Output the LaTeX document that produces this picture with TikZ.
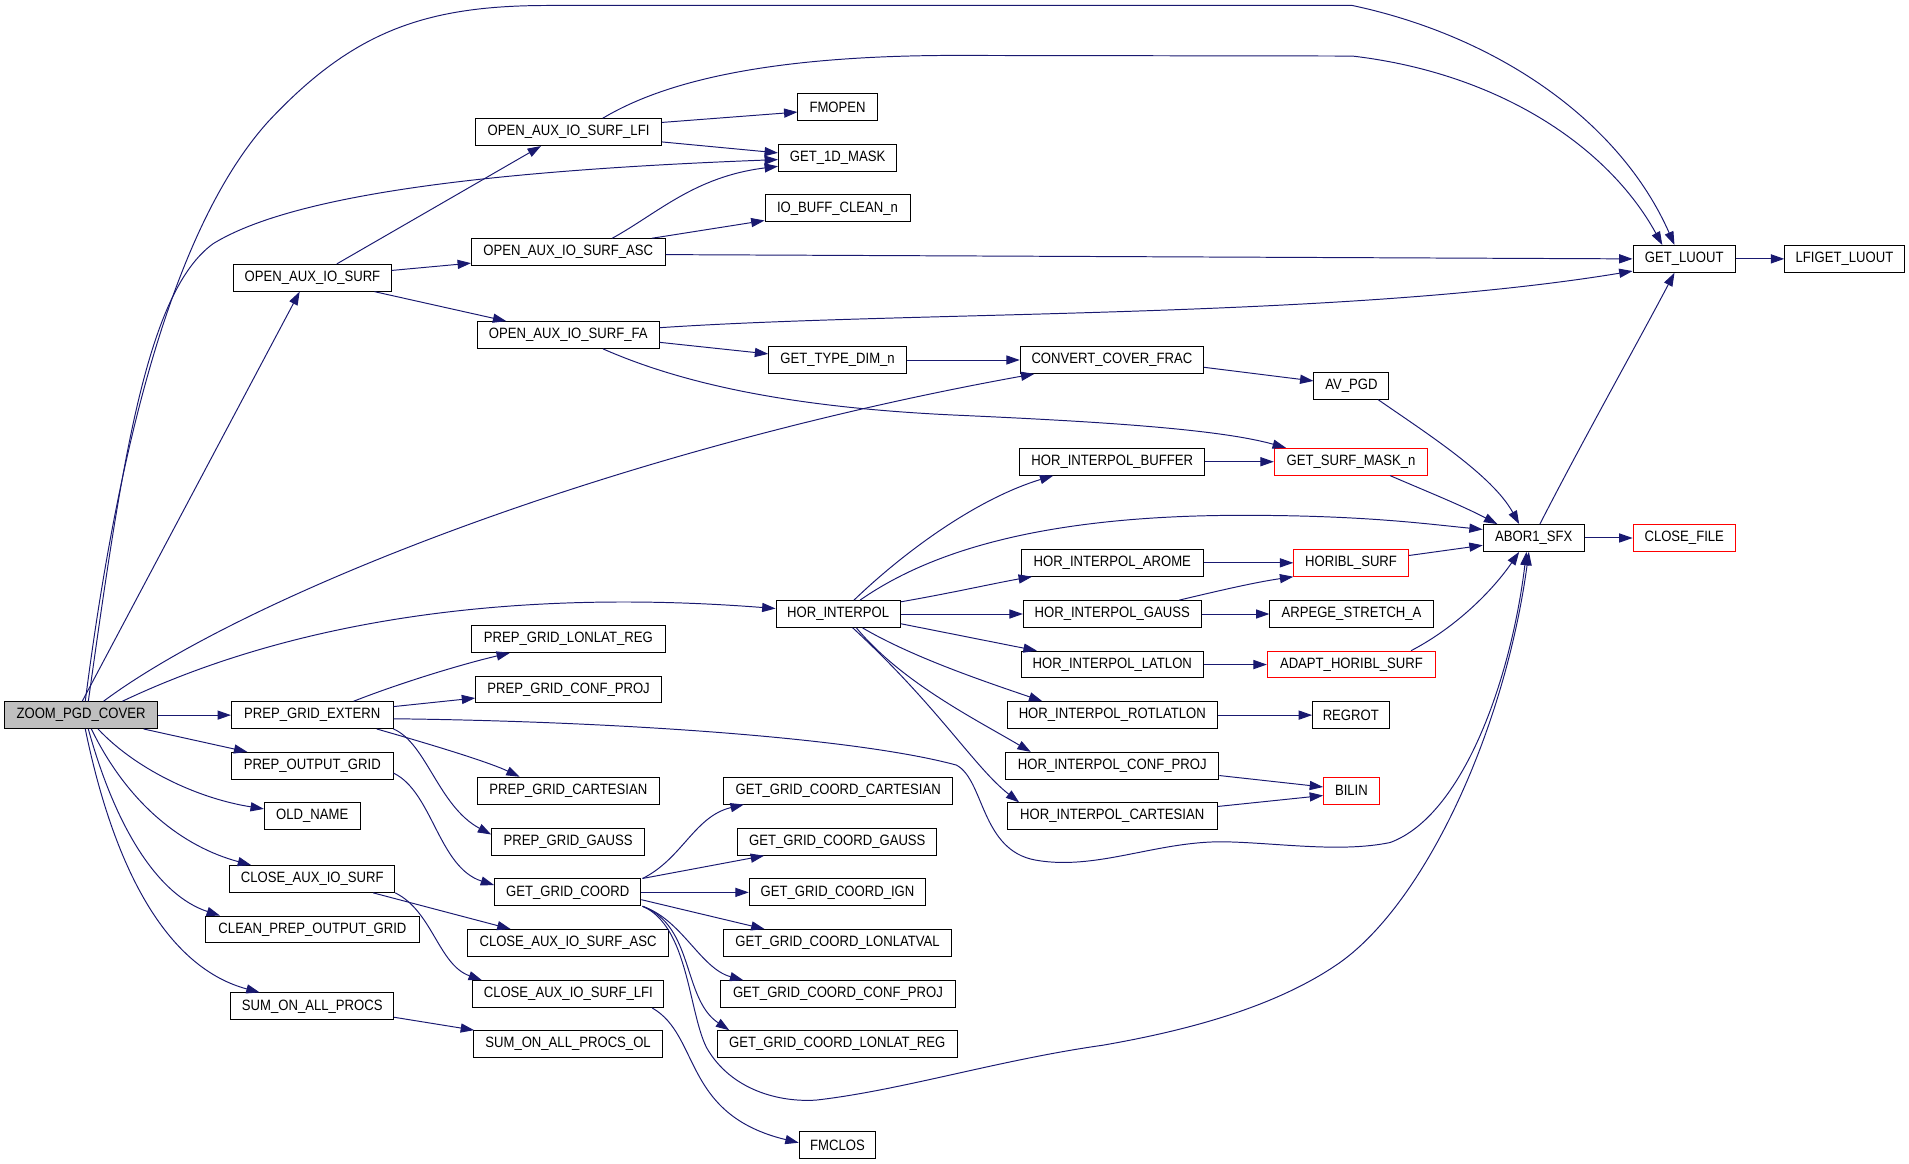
\documentclass[tikz,border=0pt]{standalone}
\usepackage{fontspec}
\setmainfont{Liberation Sans}[FakeStretch=0.875]
\usetikzlibrary{arrows.meta,calc}
\definecolor{edgec}{HTML}{191970}
\definecolor{grayfill}{HTML}{BFBFBF}
\definecolor{redc}{HTML}{FF0000}
\begin{document}
\begin{tikzpicture}[x=1pt,y=-1pt,
 fn/.style={draw=black, line width=0.8pt, rectangle, minimum height=22pt, inner sep=0pt, font=\fontsize{12.3}{13}\selectfont, text=black},
 redfn/.style={fn, draw=redc},
 rootfn/.style={fn, fill=grayfill},
 conn/.style={draw=edgec, line width=0.8pt, -{Triangle[length=11pt,width=7.5pt]}}]
\useasboundingbox (0,0) rectangle (1567,955.4);

\node[rootfn, minimum width=125pt] (zoom) at (66.5,587) {ZOOM\_PGD\_COVER};
\node[fn, minimum width=129pt] (oaios) at (256.5,228) {OPEN\_AUX\_IO\_SURF};
\node[fn, minimum width=152.5pt] (lfi) at (466.7,108.5) {OPEN\_AUX\_IO\_SURF\_LFI};
\node[fn, minimum width=65pt] (fmopen) at (687.5,88) {FMOPEN};
\node[fn, minimum width=97pt] (mask1d) at (687.5,129.5) {GET\_1D\_MASK};
\node[fn, minimum width=119pt] (iobuff) at (687.5,171) {IO\_BUFF\_CLEAN\_n};
\node[fn, minimum width=159pt] (asc) at (466.5,207) {OPEN\_AUX\_IO\_SURF\_ASC};
\node[fn, minimum width=149pt] (fa) at (466.5,275) {OPEN\_AUX\_IO\_SURF\_FA};
\node[fn, minimum width=113pt] (typedim) at (687.5,295.5) {GET\_TYPE\_DIM\_n};
\node[fn, minimum width=84pt] (luout) at (1382.5,212.5) {GET\_LUOUT};
\node[fn, minimum width=98pt] (lfiget) at (1514,212.5) {LFIGET\_LUOUT};
\node[fn, minimum width=150.5pt] (convert) at (912.7,295.5) {CONVERT\_COVER\_FRAC};
\node[fn, minimum width=61.5pt] (avpgd) at (1109.3,316.7) {AV\_PGD};
\node[fn, minimum width=152pt] (hibuf) at (913,379) {HOR\_INTERPOL\_BUFFER};
\node[redfn, minimum width=126pt] (surfmask) at (1109,379) {GET\_SURF\_MASK\_n};
\node[fn, minimum width=83pt] (abor) at (1259,441.6) {ABOR1\_SFX};
\node[redfn, minimum width=84pt] (closefile) at (1382.5,441.6) {CLOSE\_FILE};
\node[fn, minimum width=149pt] (arome) at (913,462) {HOR\_INTERPOL\_AROME};
\node[redfn, minimum width=94pt] (horibl) at (1109,462) {HORIBL\_SURF};
\node[fn, minimum width=102pt] (hi) at (688,504) {HOR\_INTERPOL};
\node[fn, minimum width=146pt] (gauss) at (913,504) {HOR\_INTERPOL\_GAUSS};
\node[fn, minimum width=134pt] (arpege) at (1109.4,504) {ARPEGE\_STRETCH\_A};
\node[fn, minimum width=159pt] (lonlatreg) at (466.5,524.5) {PREP\_GRID\_LONLAT\_REG};
\node[fn, minimum width=149pt] (latlon) at (913,545.5) {HOR\_INTERPOL\_LATLON};
\node[redfn, minimum width=138pt] (adapt) at (1109.3,545.5) {ADAPT\_HORIBL\_SURF};
\node[fn, minimum width=152.5pt] (pconf) at (466.7,566) {PREP\_GRID\_CONF\_PROJ};
\node[fn, minimum width=132.7pt] (extern) at (256.3,587) {PREP\_GRID\_EXTERN};
\node[fn, minimum width=172pt] (rotlatlon) at (913,587) {HOR\_INTERPOL\_ROTLATLON};
\node[fn, minimum width=62.7pt] (regrot) at (1108.8,587) {REGROT};
\node[fn, minimum width=132.7pt] (output) at (256.3,628.6) {PREP\_OUTPUT\_GRID};
\node[fn, minimum width=175pt] (hiconf) at (913,628.6) {HOR\_INTERPOL\_CONF\_PROJ};
\node[fn, minimum width=149pt] (pcart) at (466.5,649) {PREP\_GRID\_CARTESIAN};
\node[fn, minimum width=188pt] (gcart) at (688,649) {GET\_GRID\_COORD\_CARTESIAN};
\node[redfn, minimum width=45.7pt] (bilin) at (1109.3,649) {BILIN};
\node[fn, minimum width=78.5pt] (oldname) at (256.3,670) {OLD\_NAME};
\node[fn, minimum width=172pt] (hicart) at (913,670) {HOR\_INTERPOL\_CARTESIAN};
\node[fn, minimum width=125.4pt] (pgauss) at (466.3,691) {PREP\_GRID\_GAUSS};
\node[fn, minimum width=163.4pt] (ggauss) at (687.3,691) {GET\_GRID\_COORD\_GAUSS};
\node[fn, minimum width=135.5pt] (closeaux) at (256.3,721.5) {CLOSE\_AUX\_IO\_SURF};
\node[fn, minimum width=120pt] (ggc) at (466,732.5) {GET\_GRID\_COORD};
\node[fn, minimum width=145pt] (gign) at (687.5,732.5) {GET\_GRID\_COORD\_IGN};
\node[fn, minimum width=175pt] (clean) at (256.5,763) {CLEAN\_PREP\_OUTPUT\_GRID};
\node[fn, minimum width=165.5pt] (cascx) at (466.3,774) {CLOSE\_AUX\_IO\_SURF\_ASC};
\node[fn, minimum width=187pt] (glonlatval) at (687.5,774) {GET\_GRID\_COORD\_LONLATVAL};
\node[fn, minimum width=157pt] (clfi) at (466.5,816) {CLOSE\_AUX\_IO\_SURF\_LFI};
\node[fn, minimum width=192.5pt] (gconf) at (687.8,816) {GET\_GRID\_COORD\_CONF\_PROJ};
\node[fn, minimum width=133.5pt] (sum) at (256.3,826) {SUM\_ON\_ALL\_PROCS};
\node[fn, minimum width=155.5pt] (sumol) at (466.3,857) {SUM\_ON\_ALL\_PROCS\_OL};
\node[fn, minimum width=196.6pt] (glonlatreg) at (687.3,857) {GET\_GRID\_COORD\_LONLAT\_REG};
\node[fn, minimum width=63pt] (fmclos) at (687.5,940) {FMCLOS};

% from ZOOM_PGD_COVER
\draw[conn] ($(zoom.north)+(3.5,0)$) .. controls (90,420) and (130,200) .. (220,100) .. controls (290,25) and (350,4.5) .. (450,4.5) -- (1110,4.5) .. controls (1230,30) and (1330,100) .. ($(luout.north)+(-8,0)$);
\draw[conn] ($(zoom.north)+(6,0)$) .. controls (100,380) and (120,240) .. (175,200) .. controls (240,160) and (400,140) .. ($(mask1d.west)+(0,1.5)$);
\draw[conn] ($(zoom.north)+(1,0)$) -- ($(oaios.south)+(-10.5,0)$);
\draw[conn] ($(zoom.north)+(18.5,0)$) .. controls (200,490) and (500,370) .. ($(convert.south west)+(12,0)$);
\draw[conn] ($(zoom.north)+(34,0)$) .. controls (260,500) and (450,485) .. ($(hi.west)+(0,-4.5)$);
\draw[conn] (zoom.east) -- (extern.west);
\draw[conn] ($(zoom.south)+(51.5,0)$) -- ($(output.north west)+(13.5,0)$);
\draw[conn] ($(zoom.south)+(14,0)$) .. controls (110,630) and (160,655) .. ($(oldname.west)+(0,-6)$);
\draw[conn] ($(zoom.south)+(8.5,0)$) .. controls (105,660) and (150,695) .. ($(closeaux.north west)+(18,0)$);
\draw[conn] ($(zoom.south)+(6,0)$) .. controls (95,680) and (130,735) .. ($(clean.north west)+(12,0)$);
\draw[conn] ($(zoom.south)+(3.5,0)$) .. controls (95,720) and (140,795) .. ($(sum.north west)+(24,0)$);

% OPEN_AUX_IO_SURF
\draw[conn] ($(oaios.north)+(20,0)$) -- ($(lfi.south west)+(54,0)$);
\draw[conn] ($(oaios.east)+(0,-6)$) -- ($(asc.west)+(0,9)$);
\draw[conn] ($(oaios.south east)+(-14,0)$) -- ($(fa.north west)+(24,0)$);

% LFI
\draw[conn] ($(lfi.north)+(28,0)$) .. controls (540,70) and (620,46) .. (780,45.5) -- (1110,46) .. controls (1230,60) and (1320,120) .. ($(luout.north)+(-18,0)$);
\draw[conn] ($(lfi.east)+(0,-8)$) -- ($(fmopen.west)+(0,4)$);
\draw[conn] ($(lfi.east)+(0,8)$) -- ($(mask1d.west)+(0,-4)$);

% ASC
\draw[conn] ($(asc.north)+(36,0)$) .. controls (540,175) and (570,145) .. ($(mask1d.west)+(0,7)$);
\draw[conn] ($(asc.north)+(68.5,0)$) -- ($(iobuff.west)+(0,10)$);
\draw[conn] ($(asc.east)+(0,2)$) -- (luout.west);

% FA
\draw[conn] ($(fa.east)+(0,-6)$) .. controls (750,255) and (1100,262) .. ($(luout.west)+(0,10)$);
\draw[conn] ($(fa.east)+(0,6)$) -- ($(typedim.west)+(0,-5)$);
\draw[conn] ($(fa.south)+(28.5,0)$) .. controls (560,315) and (650,335) .. (790,341) .. controls (900,346) and (1000,352) .. ($(surfmask.north west)+(10,0)$);

\draw[conn] (typedim.east) -- (convert.west);
\draw[conn] ($(convert.east)+(0,6)$) -- ($(avpgd.west)+(0,-4)$);
\draw[conn] ($(avpgd.south)+(22,0)$) .. controls (1170,355) and (1225,390) .. ($(abor.north)+(-12,0)$);
\draw[conn] ($(surfmask.south)+(32,0)$) .. controls (1175,405) and (1200,415) .. ($(abor.north west)+(12,0)$);
\draw[conn] ($(abor.north)+(5,0)$) .. controls (1300,360) and (1345,280) .. ($(luout.south)+(-8,0)$);
\draw[conn] (abor.east) -- (closefile.west);
\draw[conn] (luout.east) -- (lfiget.west);
\draw[conn] (hibuf.east) -- (surfmask.west);
\draw[conn] (arome.east) -- (horibl.west);
\draw[conn] ($(horibl.east)+(0,-6)$) -- ($(abor.west)+(0,6)$);

% HOR_INTERPOL
\draw[conn] ($(hi.north)+(13,0)$) .. controls (740,455) and (800,410) .. ($(hibuf.south west)+(28,0)$);
\draw[conn] ($(hi.north)+(18,0)$) .. controls (760,455) and (850,423) .. (1020,423) .. controls (1120,423) and (1170,430) .. ($(abor.west)+(0,-7)$);
\draw[conn] ($(hi.east)+(0,-10)$) .. controls (780,487) and (820,478) .. ($(arome.south west)+(9,0)$);
\draw[conn] (hi.east) -- (gauss.west);
\draw[conn] ($(hi.east)+(0,8)$) .. controls (790,522) and (830,530) .. ($(latlon.north west)+(13,0)$);
\draw[conn] ($(hi.south)+(20,0)$) .. controls (750,540) and (810,560) .. ($(rotlatlon.north west)+(29,0)$);
\draw[conn] ($(hi.south)+(15,0)$) .. controls (740,560) and (800,590) .. ($(hiconf.north west)+(21,0)$);
\draw[conn] ($(hi.south)+(12,0)$) .. controls (770,580) and (800,630) .. ($(hicart.north west)+(10,0)$);

\draw[conn] ($(gauss.north)+(55,0)$) .. controls (1000,485) and (1030,478) .. (horibl.south west);
\draw[conn] (gauss.east) -- (arpege.west);
\draw[conn] (latlon.east) -- (adapt.west);
\draw[conn] ($(adapt.north)+(49,0)$) .. controls (1195,515) and (1225,485) .. ($(abor.south)+(-12,0)$);
\draw[conn] (rotlatlon.east) -- (regrot.west);
\draw[conn] ($(hiconf.east)+(0,8)$) -- ($(bilin.west)+(0,-3)$);
\draw[conn] ($(hicart.east)+(0,-8)$) -- ($(bilin.west)+(0,4)$);

% PREP_GRID_EXTERN
\draw[conn] ($(extern.north)+(34,0)$) .. controls (330,560) and (380,545) .. ($(lonlatreg.south west)+(32,0)$);
\draw[conn] ($(extern.east)+(0,-7)$) -- ($(pconf.west)+(0,7)$);
\draw[conn] ($(extern.east)+(0,3)$) .. controls (500,592) and (700,605) .. (785,628) .. controls (808,640) and (805,698) .. (850,706) .. controls (900,715) and (950,690) .. (1006,691) .. controls (1050,692) and (1100,700) .. (1141,691.6) .. controls (1200,670) and (1240,560) .. ($(abor.south)+(-6,0)$);
\draw[conn] ($(extern.south)+(53,0)$) .. controls (350,610) and (400,625) .. ($(pcart.north west)+(35,0)$);
\draw[conn] (extern.south east) .. controls (350,610) and (360,662) .. ($(pgauss.west)+(0,-6)$);

\draw[conn] ($(output.east)+(0,6)$) .. controls (355,650) and (360,712) .. ($(ggc.west)+(0,-6)$);
\draw[conn] ($(closeaux.south)+(50,0)$) -- ($(cascx.north west)+(36,0)$);
\draw[conn] (closeaux.south east) .. controls (355,748) and (360,792) .. ($(clfi.north west)+(8,0)$);
\draw[conn] ($(sum.east)+(0,9)$) -- ($(sumol.north west)+(1,0)$);
\draw[conn] ($(clfi.south east)+(-10,0)$) .. controls (575,850) and (560,915) .. ($(fmclos.west)+(0,-2)$);

% GET_GRID_COORD
\draw[conn] ($(ggc.north east)+(1,0)$) .. controls (560,705) and (570,670) .. ($(gcart.south west)+(17,0)$);
\draw[conn] ($(ggc.north east)+(1,0)$) -- ($(ggauss.south west)+(22,0)$);
\draw[conn] (ggc.east) -- (gign.west);
\draw[conn] ($(ggc.east)+(0,6)$) -- ($(glonlatval.north west)+(34,0)$);
\draw[conn] ($(ggc.south east)+(1,0)$) .. controls (560,755) and (575,795) .. ($(gconf.north west)+(19,0)$);
\draw[conn] ($(ggc.south east)+(1,0)$) .. controls (570,760) and (560,820) .. ($(glonlatreg.north west)+(10,0)$);
\draw[conn] ($(ggc.south east)+(1,0)$) .. controls (565,760) and (565,830) .. (580,860) .. controls (600,895) and (640,905) .. (670,903) .. controls (740,895) and (820,870) .. (905,858) .. controls (980,845) and (1050,825) .. (1100,790) .. controls (1170,740) and (1235,600) .. ($(abor.south)+(-4,0)$);
\end{tikzpicture}
\end{document}
